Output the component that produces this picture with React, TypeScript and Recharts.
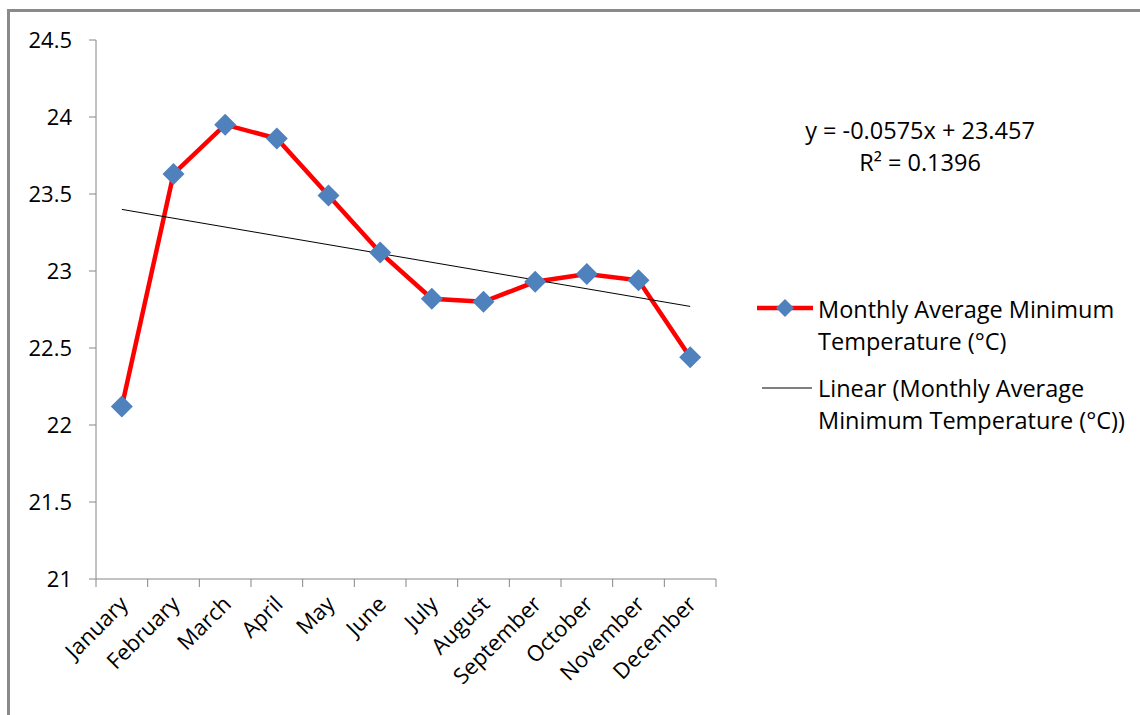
import { LineChart, Line, XAxis, YAxis, Legend, ReferenceLine } from 'recharts'

const months = [
  'January', 'February', 'March', 'April', 'May', 'June',
  'July', 'August', 'September', 'October', 'November', 'December',
]
const minTemps = [22.12, 23.63, 23.95, 23.86, 23.49, 23.12, 22.82, 22.8, 22.93, 22.98, 22.94, 22.44]
const yTicks = [21, 21.5, 22, 22.5, 23, 23.5, 24, 24.5]
// trendline ends (Jan / Dec)
const trendStart = 23.4
const trendEnd = 22.77
const seriesName = 'Monthly Average Minimum Temperature (°C)'
const trendName = 'Linear (Monthly Average Minimum Temperature (°C))'
const equation = 'y = -0.0575x + 23.457'
const rSquared = 'R² = 0.1396'

const data = months.map((m, i) => ({ month: m, temp: minTemps[i] }))

const FONT = '"Open Sans", sans-serif'
const AXIS = '#868686'

function Diamond({ cx, cy, r = 10 }: { cx?: number; cy?: number; r?: number }) {
  if (cx == null || cy == null) return null
  return (
    <polygon
      points={`${cx},${cy - r} ${cx + r},${cy} ${cx},${cy + r} ${cx - r},${cy}`}
      fill="#4F81BD"
    />
  )
}

function MonthTick(props: any) {
  const { x, y, payload } = props
  const half = payload.offset ?? 26
  const ty = y - 8
  const lx = x + 2
  const ly = ty + 21
  return (
    <g>
      <line x1={x - half} y1={ty} x2={x - half} y2={ty + 8} stroke={AXIS} />
      {payload.index === months.length - 1 && (
        <line x1={x + half} y1={ty} x2={x + half} y2={ty + 8} stroke={AXIS} />
      )}
      <text
        x={lx}
        y={ly}
        textAnchor="end"
        dy="0.35em"
        transform={`rotate(-45 ${lx} ${ly})`}
        fontFamily={FONT}
        fontSize={22}
        fill="#000"
      >
        {payload.value}
      </text>
    </g>
  )
}

function LegendBox() {
  const text = { fontFamily: FONT, fontSize: 23.5, lineHeight: '32px', color: '#000', width: 330 }
  return (
    <div style={{ textAlign: 'left' }}>
      <div style={{ display: 'flex', alignItems: 'flex-start' }}>
        <svg width={61} height={32} style={{ flex: 'none' }}>
          <line x1={0} y1={15} x2={56} y2={15} stroke="#FF0000" strokeWidth={4.5} />
          <Diamond cx={28} cy={15} r={9} />
        </svg>
        <div style={text}>{seriesName}</div>
      </div>
      <div style={{ display: 'flex', alignItems: 'flex-start', marginTop: 15 }}>
        <svg width={61} height={32} style={{ flex: 'none' }}>
          <line x1={5} y1={16} x2={55} y2={16} stroke="#000" strokeWidth={1} />
        </svg>
        <div style={text}>{trendName}</div>
      </div>
    </div>
  )
}

export default function App() {
  return (
    <div style={{ position: 'fixed', left: 0, top: 0, width: 1140, height: 715, background: '#fff', overflow: 'hidden' }}>
      <div
        style={{
          position: 'absolute', left: 7, top: 9, width: 1200, height: 800,
          borderTop: '3px solid #8a8a8a', borderLeft: '3px solid #8a8a8a',
        }}
      />
      <div style={{ position: 'absolute', left: 0, top: 0 }}>
        <LineChart
          width={1140}
          height={715}
          data={data}
          margin={{ top: 40, right: 424, bottom: 36, left: 30 }}
        >
          <XAxis
            dataKey="month"
            scale="band"
            stroke={AXIS}
            tickLine={false}
            tickSize={8}
            tickMargin={0}
            height={100}
            interval={0}
            tick={<MonthTick />}
          />
          <YAxis
            domain={[21, 24.5]}
            ticks={yTicks}
            width={66}
            stroke={AXIS}
            tickSize={7}
            tickMargin={17}
            tick={{ fontFamily: FONT, fontSize: 22, fill: '#000' }}
          />
          <Line
            dataKey="temp"
            name={seriesName}
            stroke="#FF0000"
            strokeWidth={4.5}
            dot={(p: any) => <Diamond key={p.index} cx={p.cx} cy={p.cy} r={11} />}
            activeDot={false}
            isAnimationActive={false}
          />
          <ReferenceLine
            segment={[
              { x: months[0], y: trendStart },
              { x: months[months.length - 1], y: trendEnd },
            ]}
            stroke="#000"
            strokeWidth={1}
          />
          <Legend
            layout="vertical"
            align="center"
            verticalAlign="middle"
            content={() => <LegendBox />}
            wrapperStyle={{ left: 757, top: 293, width: 390 }}
          />
        </LineChart>
      </div>
      <div
        style={{
          position: 'absolute', left: 770, top: 114, width: 300, textAlign: 'center',
          fontFamily: FONT, fontSize: 23.5, lineHeight: '32px', color: '#000',
        }}
      >
        <div>{equation}</div>
        <div>{rSquared}</div>
      </div>
    </div>
  )
}
